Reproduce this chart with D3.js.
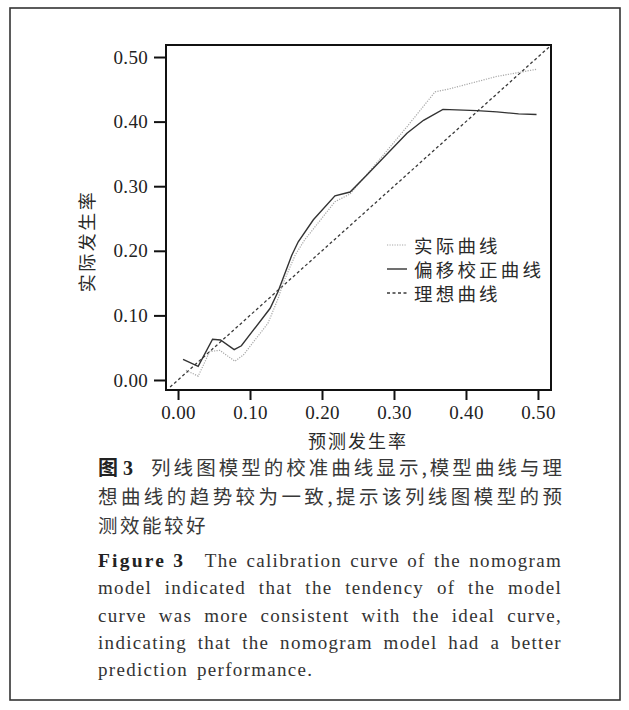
<!DOCTYPE html>
<html><head><meta charset="utf-8">
<script src="https://cdn.jsdelivr.net/npm/d3@7"></script>
<style>body{margin:0;background:#fff}svg{display:block}</style>
</head><body>
<script>
// ---- data ----
const xTicks = [0, 0.1, 0.2, 0.3, 0.4, 0.5];
const yTicks = [0, 0.1, 0.2, 0.3, 0.4, 0.5];
const actualX = [0.011,0.028,0.044,0.058,0.079,0.091,0.125,0.139,0.146,0.163,0.176,0.218,0.239,0.285,0.318,0.357,0.378,0.443,0.498];
const actualY = [0.015,0.006,0.044,0.046,0.029,0.039,0.088,0.126,0.150,0.194,0.217,0.276,0.288,0.348,0.392,0.446,0.451,0.470,0.481];
const corrX = [0.007,0.028,0.048,0.059,0.078,0.088,0.128,0.139,0.158,0.167,0.188,0.218,0.239,0.262,0.318,0.341,0.368,0.415,0.443,0.473,0.498];
const corrY = [0.032,0.021,0.063,0.062,0.047,0.053,0.111,0.137,0.193,0.214,0.248,0.285,0.291,0.317,0.382,0.402,0.419,0.417,0.415,0.412,0.411];
const idealX = [-0.011, 0.518];
const idealY = [-0.011, 0.518];
const legendLabels = ["实际曲线", "偏移校正曲线", "理想曲线"];
const xTitle = "预测发生率";
const yTitle = "实际发生率";
const cnCaption = [
  [{t:"图 3", b:true}, {t:"列线图模型的校准曲线显示,模型曲线与理"}],
  [{t:"想曲线的趋势较为一致,提示该列线图模型的预"}],
  [{t:"测效能较好"}]
];
const enCaption = [
  [{t:"Figure 3", b:true}, {t:"The calibration curve of the nomogram"}],
  [{t:"model indicated that the tendency of the model"}],
  [{t:"curve was more consistent with the ideal curve,"}],
  [{t:"indicating that the nomogram model had a better"}],
  [{t:"prediction performance."}]
];

// ---- layout ----
const W = 629, H = 710;
const L = 166, R = 551, T = 45, B = 390;
const CN = "'Noto Sans CJK SC', sans-serif";
const SERIF = "'Liberation Serif', 'DejaVu Serif', serif";
const BOLDMIX = "'Liberation Serif', 'Noto Sans CJK SC', serif";

const svg = d3.select("body").append("svg").attr("width", W).attr("height", H);
svg.append("rect").attr("x", 10).attr("y", 8).attr("width", 610).attr("height", 692)
  .attr("fill", "none").attr("stroke", "#333").attr("stroke-width", 1.6);

const x = d3.scaleLinear().domain([-0.0167, 0.5181]).range([L, R]);
const y = d3.scaleLinear().domain([-0.0155, 0.5186]).range([B, T]);

const fmt = d3.format(".2f");
const gx = svg.append("g").attr("transform", `translate(0,${B})`)
  .call(d3.axisBottom(x).tickValues(xTicks).tickFormat(fmt).tickSize(10).tickSizeOuter(0).tickPadding(6));
const gy = svg.append("g").attr("transform", `translate(${L},0)`)
  .call(d3.axisLeft(y).tickValues(yTicks).tickFormat(fmt).tickSize(12).tickSizeOuter(0).tickPadding(6));
[gx, gy].forEach(g => {
  g.select(".domain").remove();
  g.selectAll(".tick line").attr("stroke", "#111").attr("stroke-width", 2);
  g.selectAll(".tick text").attr("font-family", SERIF).attr("font-size", 19).attr("letter-spacing", 0.3).attr("fill", "#222");
});

// plot frame
svg.append("rect").attr("x", L).attr("y", T).attr("width", R - L).attr("height", B - T)
  .attr("fill", "none").attr("stroke", "#111").attr("stroke-width", 2);

const line = d3.line().x(d => x(d[0])).y(d => y(d[1]));
const zip = (a, b) => a.map((v, i) => [v, b[i]]);

svg.append("path").datum(zip(idealX, idealY)).attr("d", line)
  .attr("fill", "none").attr("stroke", "#3a3a3a").attr("stroke-width", 1.3).attr("stroke-dasharray", "3,2.5");
svg.append("path").datum(zip(actualX, actualY)).attr("d", line)
  .attr("fill", "none").attr("stroke", "#a8a8a8").attr("stroke-width", 1.2).attr("stroke-dasharray", "1.2,1.3");
svg.append("path").datum(zip(corrX, corrY)).attr("d", line)
  .attr("fill", "none").attr("stroke", "#333").attr("stroke-width", 1.4);

// legend
const legStyles = [
  {stroke:"#a8a8a8", dash:"1.2,1.3", w:1.2},
  {stroke:"#333", dash:null, w:1.4},
  {stroke:"#3a3a3a", dash:"3,2.5", w:1.3}
];
legendLabels.forEach((lab, i) => {
  const cy = 245 + i * 24;
  const s = legStyles[i];
  svg.append("line").attr("x1", 387).attr("x2", 407).attr("y1", cy).attr("y2", cy)
    .attr("stroke", s.stroke).attr("stroke-width", s.w).attr("stroke-dasharray", s.dash);
  svg.append("text").attr("x", 414).attr("y", cy).attr("dominant-baseline", "central")
    .attr("font-family", CN).attr("font-size", 18.5).attr("letter-spacing", 3.2).attr("fill", "#2a2a2a").text(lab);
});

// axis titles
svg.append("text").attr("x", 358).attr("y", 440).attr("text-anchor", "middle").attr("dominant-baseline", "central")
  .attr("font-family", CN).attr("font-size", 18).attr("letter-spacing", 2).attr("fill", "#2a2a2a").text(xTitle);
svg.append("text").attr("transform", "translate(86,241) rotate(-90)").attr("text-anchor", "middle").attr("dominant-baseline", "central")
  .attr("font-family", CN).attr("font-size", 18).attr("letter-spacing", 2.5).attr("fill", "#2a2a2a").text(yTitle);

// justified caption helper
function layoutLine(parts, x0, x1, yb, font, size, ls, justify, splitter, boldFont, boldSize, boldLs, gapAfterBold, normalGap, fill) {
  const tokens = [];
  parts.forEach(p => {
    if (p.b) tokens.push({t: p.t, b: true});
    else splitter(p.t).forEach(t => tokens.push({t, b: false}));
  });
  const nodes = tokens.map(tk => svg.append("text").attr("y", yb)
    .attr("font-family", tk.b ? boldFont : font).attr("font-weight", tk.b ? "bold" : "normal")
    .attr("font-size", tk.b ? boldSize : size).attr("letter-spacing", tk.b ? boldLs : ls)
    .attr("fill", tk.b ? "#222" : fill).text(tk.t));
  const widths = nodes.map(n => n.node().getComputedTextLength());
  const total = d3.sum(widths);
  let units = 0;
  tokens.forEach((tk, i) => { if (i < tokens.length - 1) units += tk.b ? gapAfterBold : 1; });
  const gap = justify ? (x1 - x0 - total) / units : normalGap;
  let cx = x0;
  nodes.forEach((n, i) => {
    n.attr("x", cx);
    cx += widths[i] + (tokens[i].b ? gap * gapAfterBold : gap);
  });
}
const cnSplit = s => Array.from(s);
const enSplit = s => s.split(" ");
cnCaption.forEach((ln, i) => {
  layoutLine(ln, 98, 562, 475 + i * 29, CN, 19.5, 0, i < cnCaption.length - 1, cnSplit, BOLDMIX, 20, 0, 6, 2.5, "#383838");
});
enCaption.forEach((ln, i) => {
  layoutLine(ln, 98, 562, 567 + i * 27.3, SERIF, 19, 1.3, i < enCaption.length - 1, enSplit, SERIF, 19.5, 2.2, 2.4, 9, "#333");
});
</script>
</body></html>
